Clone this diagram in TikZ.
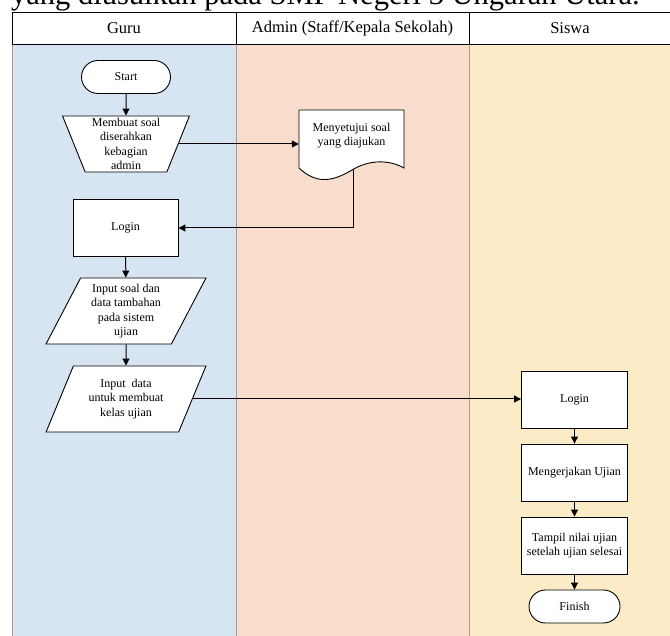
\documentclass[tikz,border=0pt]{standalone}
\usepackage{fontspec}
\setmainfont{Liberation Serif}
\usetikzlibrary{shapes.geometric,shapes.misc,arrows.meta,positioning}

\definecolor{laneguru}{RGB}{215,228,242}
\definecolor{laneadmin}{RGB}{248,221,204}
\definecolor{lanesiswa}{RGB}{251,235,199}
\definecolor{lanerule}{RGB}{165,155,145}

\begin{document}
\begin{tikzpicture}[x=1pt,y=-1pt,
  every node/.style={font=\fontsize{12}{14.5}\selectfont, align=center, inner sep=0pt},
  box/.style={draw, fill=white, line width=0.9pt, minimum width=106, minimum height=57},
  term/.style={draw, fill=white, line width=0.9pt, rounded rectangle, minimum width=89, minimum height=33},
  manual/.style={draw, fill=white, line width=0.9pt, trapezium, trapezium left angle=110, trapezium right angle=110, trapezium stretches=true, minimum width=127, minimum height=56},
  io/.style={draw, fill=white, line width=0.9pt, trapezium, trapezium left angle=64, trapezium right angle=116, trapezium stretches=true, minimum width=160, minimum height=66},
  flow/.style={line width=1pt, -{Triangle[length=7pt,width=7pt]}},
  lane/.style={draw=lanerule, line width=0.8pt},
  head/.style={draw, fill=white, line width=0.9pt, minimum height=32, font=\fontsize{16.5}{20}\selectfont}]
\useasboundingbox (0,0) rectangle (670,636);
\clip (0,0) rectangle (670,636);
\node[anchor=base west, font=\fontsize{30.5}{36}\selectfont] (judul) at (11,5) {yang diusulkan pada SMP Negeri 3 Ungaran Utara.};

\fill[laneguru] (12,44) rectangle (236,640);
\fill[laneadmin] (236,44) rectangle (469,640);
\fill[lanesiswa] (469,44) rectangle (680,640);
\draw[lane] (12,44) -- (12,640) (236,44) -- (236,640) (469,44) -- (469,640);

\node[head, minimum width=224] (hguru) at (124,28) {Guru};
\node[head, minimum width=233] (hadmin) at (352.5,28) {Admin (Staff/Kepala Sekolah)};
\node[head, minimum width=202] (hsiswa) at (570,28) {Siswa};

\node[term] (start) at (126,77) {Start};
\node[manual] (buat) at (126,144) {Membuat soal\\diserahkan\\kebagian\\admin};
\draw[fill=white, line width=0.9pt] (299,110) -- (404,110) -- (404,168) .. controls (390,160) and (370,159) .. (352,170) .. controls (335,180) and (318,186) .. (299,168) -- cycle;
\node[minimum width=105, minimum height=51] (setuju) at (351.5,135.5) {Menyetujui soal\\yang diajukan};
\coordinate (setujub) at (353,169);
\node[box, minimum width=105] (login1) at (125.5,228) {Login};
\node[io] (input1) at (126,311) {Input soal dan\\data tambahan\\pada sistem\\ujian};
\node[io] (input2) at (126,399) {Input\ \ data\\untuk membuat\\kelas ujian};
\node[box] (login2) at (574.5,399.5) {Login};
\node[box] (kerja) at (574.5,472.5) {Mengerjakan Ujian};
\node[box] (nilai) at (574.5,545.5) {Tampil nilai ujian\\setelah ujian selesai};
\node[term, minimum width=91] (finish) at (574.5,606.5) {Finish};

\draw[flow] (start) -- (buat);
\draw[flow] (buat.east) -- (buat.east -| setuju.west);
\draw[flow] (setujub) |- (login1.east);
\draw[flow] (login1) -- (input1);
\draw[flow] (input1) -- (input2);
\draw[flow] (input2.east) -- (input2.east -| login2.west);
\draw[flow] (login2) -- (kerja);
\draw[flow] (kerja) -- (nilai);
\draw[flow] (nilai) -- (finish);
\end{tikzpicture}
\end{document}
